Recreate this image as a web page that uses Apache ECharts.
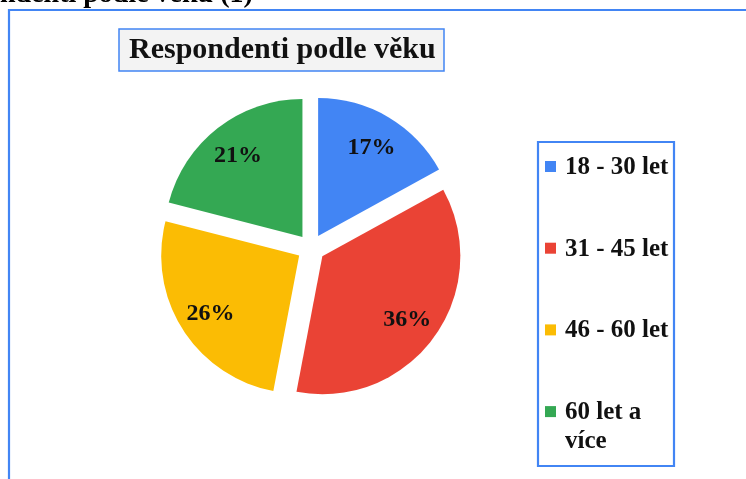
<!DOCTYPE html>
<html>
<head>
<meta charset="utf-8">
<script src="https://cdn.jsdelivr.net/npm/echarts@6/dist/echarts.min.js"></script>
<style>
html,body{margin:0;padding:0;background:#fff;}
#c{width:746px;height:479px;}
</style>
</head>
<body>
<div id="c"></div>
<script>
var categories = ['18 - 30 let', '31 - 45 let', '46 - 60 let', '60 let a\nvíce'];
var values = [17, 36, 26, 21];
var colors = ['#4285f4', '#ea4335', '#fbbc04', '#34a853'];
var chartTitle = 'Respondenti podle věku';
var captionText = 'ndenti podle věku (1)';

var FONT = "'Liberation Serif', 'Times New Roman', serif";
var BLUE = '#4285f4';

var chart = echarts.init(document.getElementById('c'), null, {renderer: 'canvas'});

var pieData = categories.map(function (c, i) {
  return {name: c, value: values[i], selected: true, itemStyle: {color: colors[i]}};
});
var labelData = categories.map(function (c, i) {
  return {name: c, value: values[i], selected: true};
});

var legendGraphics = [];
var legendTop = 167, legendStep = 81.7;
categories.forEach(function (c, i) {
  var cy = legendTop + i * legendStep;
  legendGraphics.push({
    type: 'rect', left: 545, top: cy - 6, silent: true,
    shape: {width: 11, height: 11},
    style: {fill: colors[i]}
  });
  legendGraphics.push({
    type: 'text', x: 565, y: cy - 14, silent: true,
    style: {text: c, fill: '#111', font: 'bold 25px ' + FONT, lineHeight: 29,
            verticalAlign: 'top', textVerticalAlign: 'top'}
  });
});

var option = {
  animation: false,
  backgroundColor: '#fff',
  title: {
    text: chartTitle,
    left: 119, top: 29,
    padding: [6, 9, 6, 10],
    backgroundColor: '#f3f3f3',
    borderColor: BLUE, borderWidth: 1.5,
    textStyle: {fontFamily: FONT, fontWeight: 'bold', fontSize: 30, color: '#111', lineHeight: 30}
  },
  graphic: [
    {type: 'rect', silent: true, z: -1, shape: {x: 9, y: 10, width: 800, height: 500},
     style: {fill: 'none', stroke: BLUE, lineWidth: 2.2}},
    {type: 'text', silent: true, x: 0, y: -5,
     style: {text: captionText, fill: '#000', font: 'bold 28px ' + FONT, textVerticalAlign: 'middle'}},
    {type: 'rect', silent: true, shape: {x: 538, y: 142, width: 136, height: 324},
     style: {fill: 'none', stroke: BLUE, lineWidth: 2.2}}
  ],
  series: [
    {
      type: 'pie',
      center: [311, 248],
      radius: [0, 138],
      startAngle: 90,
      clockwise: true,
      selectedMode: 'multiple',
      selectedOffset: 14,
      label: {show: false},
      labelLine: {show: false},
      emphasis: {disabled: true},
      select: {itemStyle: {borderWidth: 0}},
      data: pieData
    },
    {
      type: 'pie',
      center: [311, 250],
      radius: [96, 108],
      startAngle: 90,
      clockwise: true,
      silent: true,
      selectedMode: 'multiple',
      selectedOffset: 14,
      itemStyle: {color: 'rgba(0,0,0,0)'},
      emphasis: {disabled: true},
      label: {
        show: true, position: 'inside',
        formatter: '{c}%',
        fontFamily: FONT, fontWeight: 'bold', fontSize: 24, color: '#111'
      },
      labelLine: {show: false},
      data: labelData
    }
  ]
};
option.graphic = option.graphic.concat(legendGraphics);
chart.setOption(option);
</script>
</body>
</html>
